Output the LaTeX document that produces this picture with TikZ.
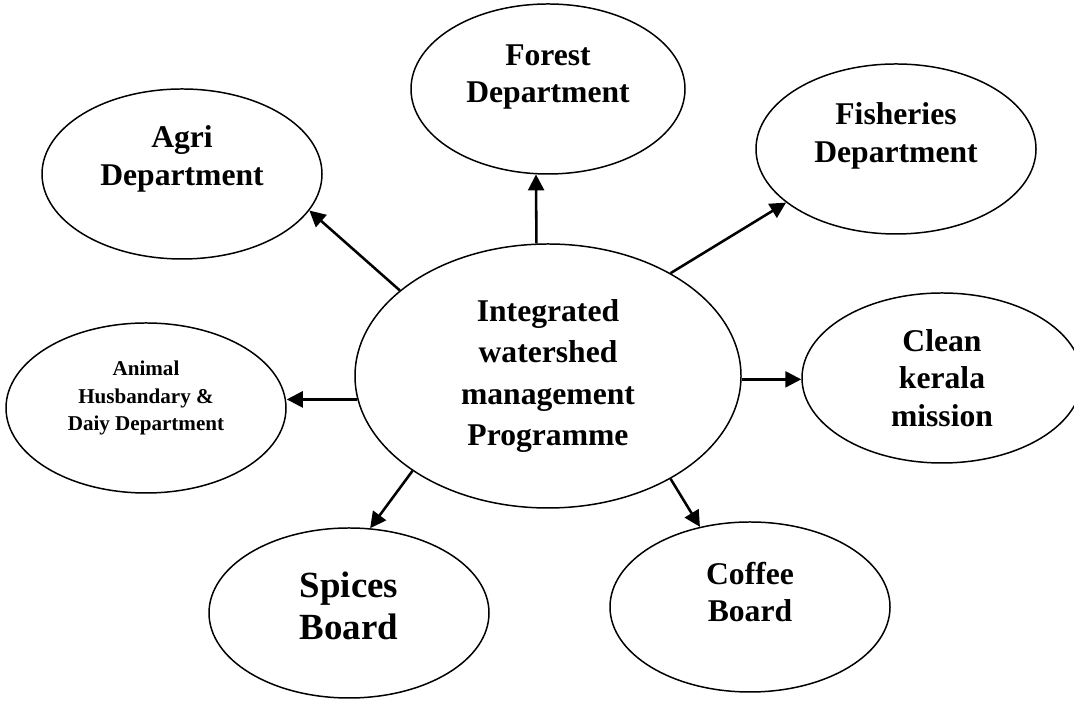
\documentclass[tikz,border=0pt]{standalone}
\usepackage{fontspec}
\setmainfont{Liberation Serif}
\usetikzlibrary{arrows.meta,positioning,shapes.geometric}
\tikzset{
    >=Latex,
    bubble/.style={draw=black, line width=0.85pt, ellipse, inner sep=0pt, minimum width=5.6cm, minimum height=3.4cm},
    hub/.style={bubble, minimum width=7.72cm, minimum height=5.28cm, align=center, font=\fontsize{18}{23.6}\selectfont\bfseries},
    lbl/.style={align=center, font=\fontsize{18}{21.5}\selectfont\bfseries},
    smalllbl/.style={align=center, font=\fontsize{12}{15.9}\selectfont\bfseries},
    biglbl/.style={align=center, font=\fontsize{21}{23.8}\selectfont\bfseries},
    link/.style={-{Triangle[width=0.32cm,length=0.32cm]}, line width=1.45pt}
}
\begin{document}
\begin{tikzpicture}
\useasboundingbox (0,0) rectangle (21.48,14.04);

\node[hub] (iwmp) at (10.96,6.52) {Integrated\\watershed\\management\\Programme};

\node[bubble, label={[lbl, yshift=0.3cm]center:{Agri\\Department}}] (agri) at (3.64,10.56) {};
\node[bubble, minimum width=5.48cm, label={[lbl, yshift=0.24cm]center:{Forest\\Department}}] (forest) at (10.96,12.26) {};
\node[bubble, label={[lbl, yshift=0.26cm]center:{Fisheries\\Department}}] (fish) at (17.92,11.06) {};
\node[bubble, label={[lbl]center:{Clean\\kerala\\mission}}] (clean) at (18.84,6.48) {};
\node[bubble, label={[smalllbl, yshift=0.2cm]center:{Animal\\Husbandary \&\\Daiy Department}}] (animal) at (2.92,5.88) {};
\node[bubble, label={[biglbl, yshift=0.14cm]center:{Spices\\Board}}] (spices) at (6.98,1.78) {};
\node[bubble, label={[lbl, yshift=0.3cm]center:{Coffee\\Board}}] (coffee) at (15.0,1.90) {};

\draw[link] (iwmp.150) -- (agri.-16);
\draw[link] (iwmp.95) -- (forest.-98);
\draw[link] (iwmp.40) -- (fish.206);
\draw[link] (iwmp.-1.5) -- (iwmp.-1.5 -| clean.west);
\draw[link] (iwmp.187) -- (iwmp.187 -| animal.east);
\draw[link] (iwmp.215) -- (spices.76);
\draw[link] (iwmp.-40) -- (coffee.122);
\end{tikzpicture}
\end{document}
